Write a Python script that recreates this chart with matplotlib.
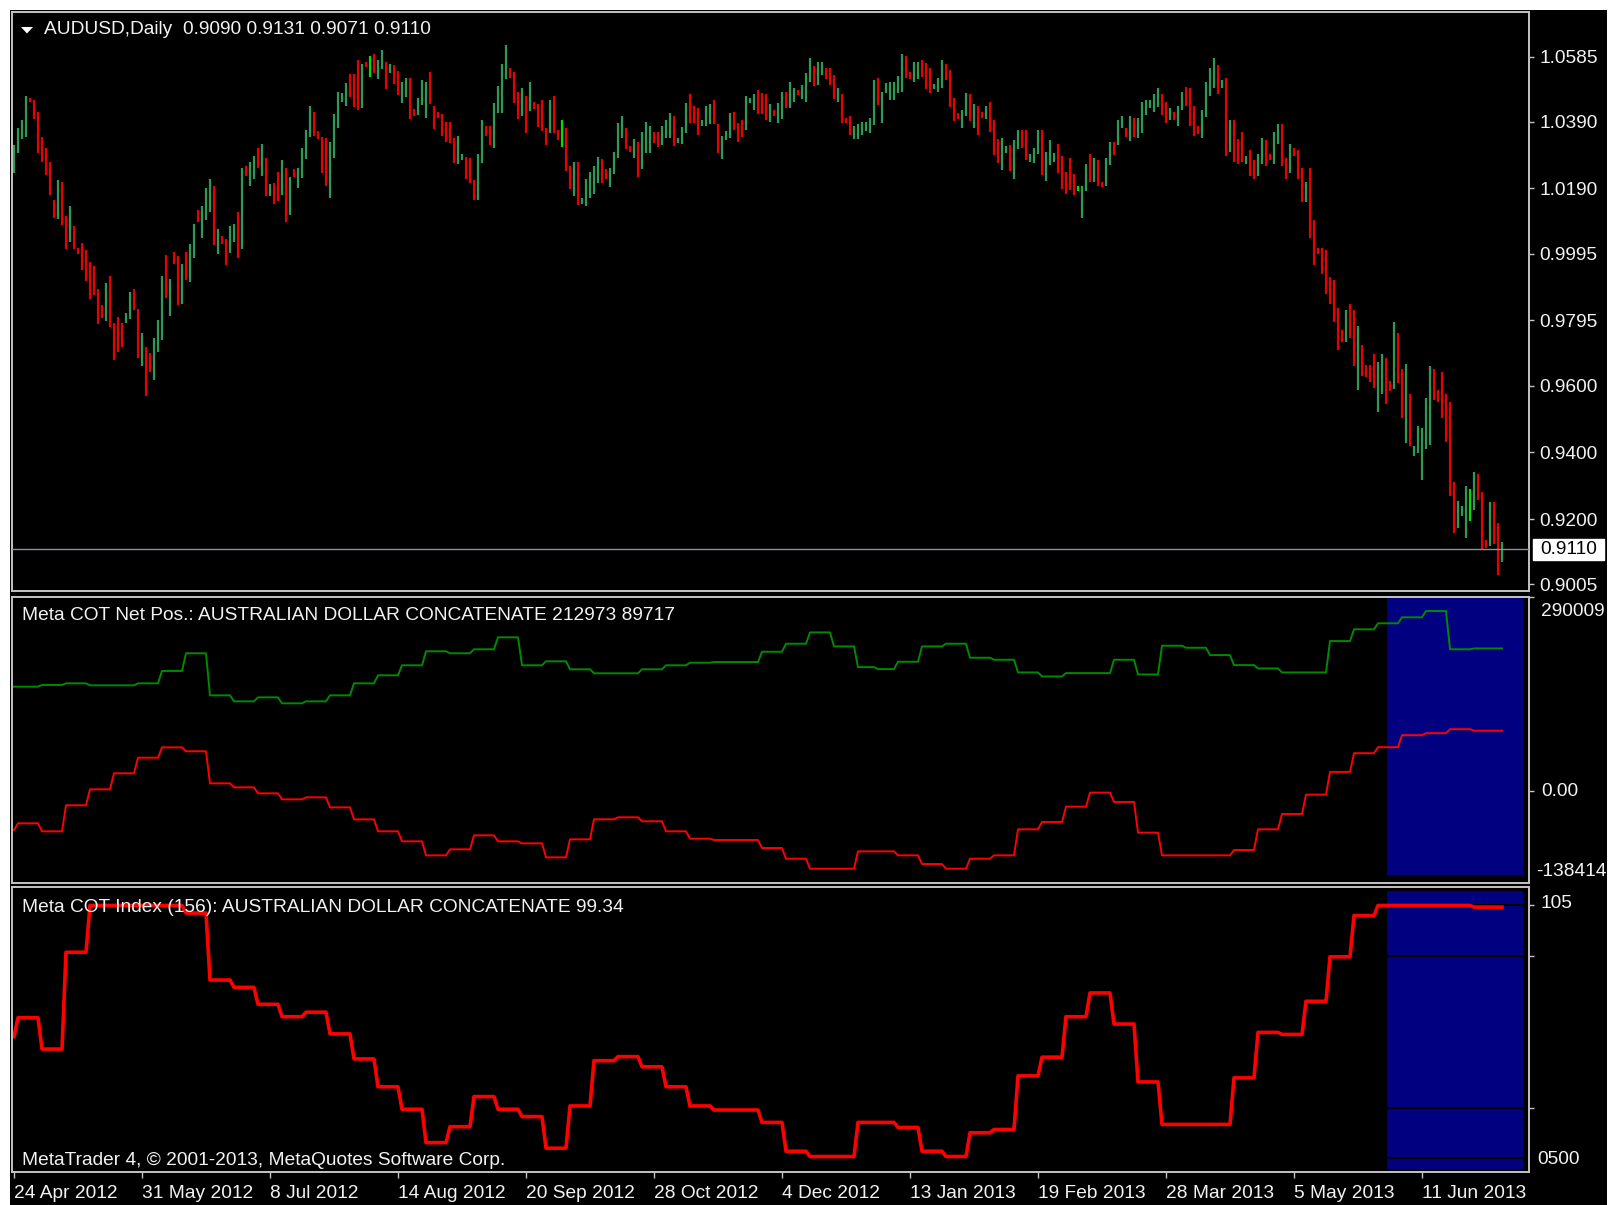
import numpy as np
import matplotlib
matplotlib.use("Agg")
import matplotlib.pyplot as plt
from matplotlib.patches import Rectangle, Polygon
from matplotlib.transforms import blended_transform_factory

plt.rcParams['font.family'] = ['Liberation Sans', 'DejaVu Sans']

# ------------------------------------------------------------------ data
symbol_title = "AUDUSD,Daily  0.9090 0.9131 0.9071 0.9110"
netpos_title = "Meta COT Net Pos.: AUSTRALIAN DOLLAR CONCATENATE 212973 89717"
index_title = "Meta COT Index (156): AUSTRALIAN DOLLAR CONCATENATE 99.34"
copyright_text = "MetaTrader 4, \u00a9 2001-2013, MetaQuotes Software Corp."

bar_high = [
    1.0320, 1.0370, 1.0395, 1.0467, 1.0460, 1.0455, 1.0420, 1.0345, 1.0310, 1.0268,
    1.0155, 1.0215, 1.0208, 1.0108, 1.0137, 1.0077, 1.0012, 1.0028, 1.0005, 0.9970,
    0.9957, 0.9890, 0.9842, 0.9908, 0.9927, 0.9788, 0.9805, 0.9788, 0.9817, 0.9880,
    0.9890, 0.9830, 0.9758, 0.9717, 0.9698, 0.9742, 0.9795, 0.9927, 0.9992, 0.9920,
    1.0000, 0.9987, 0.9963, 1.0000, 1.0023, 1.0083, 1.0125, 1.0137, 1.0192, 1.0217,
    1.0198, 1.0070, 1.0047, 1.0040, 1.0078, 1.0083, 1.0120, 1.0252, 1.0257, 1.0270,
    1.0287, 1.0310, 1.0323, 1.0280, 1.0202, 1.0205, 1.0240, 1.0275, 1.0250, 1.0223,
    1.0247, 1.0250, 1.0312, 1.0365, 1.0437, 1.0418, 1.0363, 1.0345, 1.0340, 1.0328,
    1.0412, 1.0480, 1.0475, 1.0505, 1.0532, 1.0532, 1.0575, 1.0563, 1.0570, 1.0588,
    1.0593, 1.0575, 1.0605, 1.0570, 1.0563, 1.0560, 1.0542,
    1.0510, 1.0522, 1.0522, 1.0427, 1.0462, 1.0515, 1.0510, 1.0540, 1.0438, 1.0420,
    1.0414, 1.0388, 1.0390, 1.0342, 1.0348, 1.0293, 1.0285, 1.0282, 1.0215, 1.0293,
    1.0395, 1.0377, 1.0378, 1.0445, 1.0498, 1.0563, 1.0618, 1.0552, 1.0540, 1.0480,
    1.0492, 1.0468, 1.0510, 1.0450, 1.0443, 1.0455, 1.0370, 1.0455, 1.0468, 1.0365,
    1.0395, 1.0372, 1.0258, 1.0270, 1.0268, 1.0163, 1.0217, 1.0238, 1.0258, 1.0285,
    1.0277, 1.0248, 1.0252, 1.0300, 1.0385, 1.0408, 1.0372, 1.0318, 1.0337, 1.0330,
    1.0360, 1.0390, 1.0378, 1.0358, 1.0360, 1.0377, 1.0395, 1.0415, 1.0408, 1.0342,
    1.0375, 1.0445, 1.0473, 1.0438, 1.0430, 1.0395, 1.0438, 1.0443, 1.0455, 1.0383,
    1.0348, 1.0362, 1.0415, 1.0420, 1.0385, 1.0395, 1.0468, 1.0462, 1.0473, 1.0485,
    1.0475, 1.0473, 1.0443, 1.0425, 1.0445, 1.0480,
    1.0480, 1.0510, 1.0492, 1.0485, 1.0500, 1.0535, 1.0582, 1.0558, 1.0570, 1.0570,
    1.0552, 1.0552, 1.0530, 1.0492, 1.0473, 1.0402, 1.0407, 1.0378, 1.0382, 1.0390,
    1.0390, 1.0402, 1.0515, 1.0520, 1.0480, 1.0505, 1.0510, 1.0510, 1.0528, 1.0593,
    1.0588, 1.0540, 1.0570, 1.0570, 1.0575, 1.0565, 1.0552, 1.0502, 1.0522, 1.0575,
    1.0563, 1.0545, 1.0462, 1.0415, 1.0425, 1.0475, 1.0473, 1.0443, 1.0438, 1.0420,
    1.0438, 1.0448, 1.0395, 1.0337, 1.0342, 1.0318, 1.0320, 1.0335, 1.0365, 1.0365,
    1.0365, 1.0292, 1.0312, 1.0365, 1.0365, 1.0300, 1.0335, 1.0295, 1.0323, 1.0288,
    1.0240, 1.0282, 1.0233, 1.0198, 1.0198, 1.0263, 1.0292, 1.0282, 1.0275, 1.0210,
    1.0282, 1.0330, 1.0330, 1.0395, 1.0408, 1.0372, 1.0408, 1.0402, 1.0402, 1.0450,
    1.0455, 1.0455, 1.0473, 1.0492, 1.0473, 1.0450,
    1.0430, 1.0418, 1.0437, 1.0478, 1.0495, 1.0490, 1.0437, 1.0377, 1.0425, 1.0509,
    1.0550, 1.0581, 1.0560, 1.0514, 1.0521, 1.0394, 1.0394, 1.0339, 1.0358, 1.0286,
    1.0305, 1.0276, 1.0292, 1.0341, 1.0336, 1.0292, 1.0358, 1.0383, 1.0383, 1.0281,
    1.0323, 1.0310, 1.0305, 1.0251, 1.0210, 1.0251, 1.0096, 1.0011, 1.0011, 1.0006,
    0.9924, 0.9915, 0.9833, 0.9766, 0.9826, 0.9843, 0.9826, 0.9779, 0.9723, 0.9661,
    0.9663, 0.9695, 0.9671, 0.9695, 0.9682, 0.9615, 0.9790, 0.9759, 0.9651, 0.9664,
    0.9574, 0.9419, 0.9479, 0.9473, 0.9563, 0.9658, 0.9651, 0.9586, 0.9640, 0.9576,
    0.9551, 0.9311, 0.9256, 0.9239, 0.9299, 0.9292, 0.9342, 0.9335, 0.9282, 0.9138,
    0.9251, 0.9251, 0.9190, 0.9131,
]
bar_low = [
    1.0235, 1.0295, 1.0338, 1.0345, 1.0448, 1.0398, 1.0295, 1.0270, 1.0230, 1.0170,
    1.0102, 1.0098, 1.0080, 1.0008, 1.0030, 1.0008, 0.9995, 0.9946, 0.9912, 0.9858,
    0.9870, 0.9784, 0.9802, 0.9792, 0.9775, 0.9678, 0.9702, 0.9715, 0.9787, 0.9800,
    0.9825, 0.9682, 0.9658, 0.9570, 0.9642, 0.9617, 0.9702, 0.9738, 0.9863, 0.9808,
    0.9965, 0.9840, 0.9845, 0.9915, 0.9910, 0.9982, 1.0090, 1.0042, 1.0095, 1.0120,
    1.0020, 0.9995, 1.0023, 0.9960, 0.9997, 1.0030, 0.9982, 1.0008, 1.0228, 1.0198,
    1.0217, 1.0250, 1.0228, 1.0168, 1.0168, 1.0145, 1.0152, 1.0170, 1.0090, 1.0110,
    1.0223, 1.0192, 1.0222, 1.0278, 1.0343, 1.0348, 1.0337, 1.0235, 1.0198, 1.0162,
    1.0282, 1.0372, 1.0450, 1.0438, 1.0465, 1.0435, 1.0425, 1.0432, 1.0555, 1.0523,
    1.0535, 1.0517, 1.0547, 1.0487, 1.0535, 1.0502, 1.0470,
    1.0445, 1.0463, 1.0398, 1.0407, 1.0410, 1.0440, 1.0402, 1.0443, 1.0367, 1.0402,
    1.0348, 1.0330, 1.0325, 1.0265, 1.0263, 1.0275, 1.0217, 1.0205, 1.0157, 1.0157,
    1.0265, 1.0348, 1.0320, 1.0312, 1.0415, 1.0415, 1.0517, 1.0522, 1.0445, 1.0398,
    1.0407, 1.0355, 1.0422, 1.0427, 1.0373, 1.0362, 1.0320, 1.0355, 1.0357, 1.0335,
    1.0313, 1.0242, 1.0187, 1.0168, 1.0140, 1.0145, 1.0138, 1.0163, 1.0173, 1.0205,
    1.0205, 1.0217, 1.0193, 1.0232, 1.0282, 1.0342, 1.0308, 1.0300, 1.0282, 1.0223,
    1.0248, 1.0295, 1.0295, 1.0325, 1.0313, 1.0320, 1.0342, 1.0342, 1.0318, 1.0325,
    1.0323, 1.0355, 1.0385, 1.0385, 1.0350, 1.0377, 1.0378, 1.0382, 1.0382, 1.0295,
    1.0277, 1.0335, 1.0342, 1.0365, 1.0330, 1.0343, 1.0365, 1.0445, 1.0425, 1.0413,
    1.0412, 1.0395, 1.0390, 1.0407, 1.0385, 1.0398,
    1.0432, 1.0432, 1.0450, 1.0470, 1.0457, 1.0450, 1.0510, 1.0498, 1.0500, 1.0530,
    1.0517, 1.0500, 1.0457, 1.0450, 1.0385, 1.0385, 1.0350, 1.0337, 1.0337, 1.0350,
    1.0362, 1.0355, 1.0380, 1.0440, 1.0385, 1.0475, 1.0455, 1.0455, 1.0475, 1.0480,
    1.0520, 1.0518, 1.0510, 1.0518, 1.0523, 1.0488, 1.0475, 1.0488, 1.0480, 1.0490,
    1.0515, 1.0433, 1.0392, 1.0397, 1.0372, 1.0408, 1.0392, 1.0372, 1.0350, 1.0402,
    1.0398, 1.0360, 1.0290, 1.0265, 1.0245, 1.0295, 1.0242, 1.0218, 1.0308, 1.0312,
    1.0275, 1.0270, 1.0265, 1.0292, 1.0230, 1.0212, 1.0260, 1.0270, 1.0235, 1.0188,
    1.0175, 1.0185, 1.0170, 1.0182, 1.0103, 1.0182, 1.0210, 1.0210, 1.0198, 1.0193,
    1.0198, 1.0260, 1.0290, 1.0320, 1.0370, 1.0343, 1.0332, 1.0343, 1.0342, 1.0355,
    1.0410, 1.0432, 1.0420, 1.0435, 1.0410, 1.0385,
    1.0395, 1.0395, 1.0377, 1.0425, 1.0437, 1.0377, 1.0348, 1.0354, 1.0341, 1.0403,
    1.0468, 1.0492, 1.0473, 1.0492, 1.0287, 1.0300, 1.0269, 1.0264, 1.0269, 1.0264,
    1.0228, 1.0217, 1.0228, 1.0264, 1.0258, 1.0276, 1.0264, 1.0323, 1.0258, 1.0217,
    1.0235, 1.0287, 1.0217, 1.0150, 1.0150, 1.0042, 0.9960, 0.9994, 0.9934, 0.9874,
    0.9843, 0.9790, 0.9707, 0.9730, 0.9730, 0.9743, 0.9658, 0.9586, 0.9630, 0.9625,
    0.9610, 0.9594, 0.9522, 0.9576, 0.9545, 0.9584, 0.9589, 0.9607, 0.9504, 0.9427,
    0.9419, 0.9390, 0.9399, 0.9318, 0.9409, 0.9421, 0.9558, 0.9551, 0.9504, 0.9431,
    0.9270, 0.9158, 0.9174, 0.9211, 0.9144, 0.9194, 0.9228, 0.9257, 0.9110, 0.9113,
    0.9120, 0.9125, 0.9033, 0.9071,
]
# G = bull bar, R = bear bar, L = highlighted bull bar
bar_dir = (
    "GGGGRRRRRR" "RGRRGRRRRR" "RRRGRRRRGG" "RRGRRGGGRG" "RRGRGGRGGG"
    "RGRRGGRGRG" "GRGRGRRGRG" "RGGGGRRRRG" "GGGGRRRGRL" "RGGRGRR"
    "GGRRGGGRRR" "RRRRGGRRRG" "GRRGGGGRRR" "GRGRRRRGRR" "LRRGRGGGGG"
    "RRGGGGRRGR" "GGGRRGGGRG" "GGRRRGGGRR" "GGGRRRGGGR" "RRGRGG"
    "RGGRGGGRGG" "RRRGRRRGGG" "GGGRGGGGGG" "RRGGRRRGGG" "RRRRGGRGRR"
    "GRRRGGRGGR" "RGGGRGGGRR" "RRRLGGRGRR" "GGRGGRGRGG" "GGGGRR"
    "GRGGRRRRGG" "GGRGRGRRRG" "RRGGRRGGRR" "GRRRGRRRRR" "RRRRGRRGRR"
    "RRGGRRGRRG" "RGGGGGRRRR" "RRGGGLGRRR" "GRRG"
)
last_price = 0.9110
price_ticks = [1.0585, 1.0390, 1.0190, 0.9995, 0.9795, 0.9600, 0.9400, 0.9200, 0.9005]

# weekly COT values: first bar of each weekly step
week_start = [0] + list(range(1, 206, 6)) + [211, 216] + list(range(221, 366, 6))
cot_green = [
    155700, 155700, 158200, 160700, 157700, 157700, 160700, 179200, 205700, 142700,
    133700, 139700, 130700, 133700, 142700, 160700, 172700, 187700, 208700, 205700,
    211700, 229600, 187700, 193700, 181700, 175700, 175700, 181700, 187700, 191600,
    192600, 192600, 208000, 220000, 237000, 216000, 185000, 182000, 193000, 216000,
    220000, 199000, 196000, 177000, 171000, 176000, 176000, 196000, 174000, 217000,
    214000, 203000, 188000, 183000, 177000, 177000, 224000, 241600, 250600, 259600,
    269000, 211700, 212973,
]
cot_red = [
    -59000, -49000, -61000, -22000, 1900, 25900, 49300, 64800, 58900, 10900,
    4900, -4100, -13100, -10100, -25100, -43100, -61000, -76000, -97000, -88000,
    -67000, -76000, -79000, -100000, -73000, -43000, -40000, -46000, -61000, -72000,
    -74000, -74000, -86000, -102000, -117000, -117000, -91000, -91000, -97000, -110000,
    -117000, -102000, -97000, -58000, -47000, -24000, -3000, -17000, -63000, -97000,
    -97000, -97000, -89000, -58000, -35000, -6000, 28000, 56000, 65000, 83000,
    86000, 92000, 89717,
]
cot_index = [
    48.1, 55.6, 43.2, 81.5, 100, 100, 100, 100, 97.0, 70.5,
    67.6, 60.9, 56.0, 57.8, 49.2, 39.3, 28.3, 19.4, 6.2, 12.5,
    24.4, 19.4, 16.5, 4.0, 20.7, 38.6, 40.2, 36.2, 28.3, 20.7,
    19.1, 19.1, 14.2, 2.8, 0.7, 0.7, 14.2, 14.2, 12.2, 2.8,
    0.7, 10.1, 11.4, 32.6, 40.0, 56.0, 65.4, 53.1, 30.2, 13.4,
    13.4, 13.4, 31.8, 49.8, 49.0, 62.1, 79.7, 96.0, 100, 100,
    100, 100, 99.34,
]
netpos_max = 290009
netpos_min = -138414
index_top_label = "105"
index_bottom_label = "0500"
index_levels = [100, 80, 20, 0]
highlight_bars = (343.25, 377.25)

date_tick_bars = [0, 32, 64, 96, 128, 160, 192, 224, 256, 288, 320, 352]
date_tick_labels = ["24 Apr 2012", "31 May 2012", "8 Jul 2012", "14 Aug 2012",
                    "20 Sep 2012", "28 Oct 2012", "4 Dec 2012", "13 Jan 2013",
                    "19 Feb 2013", "28 Mar 2013", "5 May 2013", "11 Jun 2013"]

# ------------------------------------------------------------------ figure
W, H = 1622, 1205
fig = plt.figure(figsize=(W / 100, H / 100), dpi=100)
fig.patch.set_facecolor('white')
fig.add_artist(Rectangle((10 / W, 0), 1597 / W, 1 - 10 / H, transform=fig.transFigure,
                         facecolor='black', edgecolor='none', zorder=-10))

TXT = '#F2F2F2'
FRAME = '#C4C4C4'
FS = 13.8


def fx(x):
    return x / W


def fy(y):
    return 1 - y / H


L, R = 12, 1529
ax1 = fig.add_axes([fx(L), fy(591), (R - L) / W, (591 - 12) / H])
ax2 = fig.add_axes([fx(L), fy(883), (R - L) / W, (883 - 597) / H])
ax3 = fig.add_axes([fx(L), fy(1172), (R - L) / W, (1172 - 887) / H])

n = len(bar_high)
xs = np.arange(n)
for ax in (ax1, ax2, ax3):
    ax.set_facecolor('black')
    for s in ax.spines.values():
        s.set_color(FRAME)
        s.set_linewidth(1.4)
    ax.yaxis.tick_right()
    ax.tick_params(axis='y', colors=FRAME, labelcolor=TXT, length=3.5, width=1,
                   pad=4, labelsize=FS)
    ax.set_xlim(-0.5, 378.75)
    ax.set_xticks([])

# ---- price panel
col_map = {'G': '#2e9a5a', 'R': '#e60000', 'L': '#00e000'}
ax1.vlines(xs, bar_low, bar_high, colors=[col_map[c] for c in bar_dir], linewidth=1.6)
ax1.set_ylim(0.89854, 1.07182)
ax1.set_yticks(price_ticks, labels=[f"{p:.4f}" for p in price_ticks])
ax1.axhline(last_price, color='#8593a3', lw=1.0, zorder=3)
bt = blended_transform_factory(ax1.transAxes, ax1.transData)
box_h = 20.5 / 3341.5
ax1.add_patch(Rectangle(((1533 - L) / (R - L), last_price - box_h / 2),
                        (1604 - 1533) / (R - L), box_h, transform=bt,
                        facecolor='white', edgecolor='white', clip_on=False, zorder=5))
ax1.text((1540 - L) / (R - L), last_price, f"{last_price:.4f}", transform=bt,
         color='black', fontsize=FS, va='center', ha='left', clip_on=False, zorder=6)

fig.add_artist(Polygon([(fx(21), fy(27)), (fx(33), fy(27)), (fx(27), fy(33.5))],
                       closed=True, transform=fig.transFigure, facecolor='white',
                       edgecolor='none', zorder=5))
fig.text(fx(44), fy(30), symbol_title, color=TXT, fontsize=FS, va='center', ha='left')

# ---- net position panel
counts = np.diff(week_start + [n])
g_line = np.repeat(cot_green, counts)
r_line = np.repeat(cot_red, counts)
idx_line = np.repeat(cot_index, counts)

ax2.axvspan(highlight_bars[0], highlight_bars[1], ymin=0.028, ymax=1.0,
            color='#000080', zorder=0.5, lw=0)
ax2.plot(xs, g_line, color='#008a00', lw=1.4, zorder=2)
ax2.plot(xs, r_line, color='#ff0000', lw=1.4, zorder=2)
ax2.set_ylim(netpos_min, netpos_max)
ax2.set_yticks([netpos_max, 0], labels=['', ''])
fig.text(fx(1541), fy(611), f"{netpos_max}", color=TXT, fontsize=FS, va='center')
fig.text(fx(1541), fy(792), "0.00", color=TXT, fontsize=FS, va='center')
fig.text(fx(1536), fy(871), f"{netpos_min}", color=TXT, fontsize=FS, va='center')
fig.text(fx(22), fy(615.5), netpos_title, color=TXT, fontsize=FS, va='center')

# ---- COT index panel
ax3.axvspan(highlight_bars[0], highlight_bars[1], ymin=0.0105, ymax=0.987,
            color='#000080', zorder=0.5, lw=0)
for lv in index_levels:
    ax3.axhline(lv, color='black', lw=1.5, zorder=1)
ax3.plot(xs, idx_line, color='#ff0000', lw=2.6, zorder=2)
ax3.set_ylim(-5.42, 107.3)
ax3.set_yticks([100, 80, 20], labels=['', '', ''])
fig.text(fx(1541), fy(903), index_top_label, color=TXT, fontsize=FS, va='center')
fig.text(fx(1537), fy(1160), index_bottom_label, color=TXT, fontsize=FS, va='center')
fig.text(fx(22), fy(907.5), index_title, color=TXT, fontsize=FS, va='center')
fig.text(fx(22), fy(1160.5), copyright_text, color=TXT, fontsize=FS, va='center')

ax3.set_xticks(date_tick_bars, labels=date_tick_labels)
ax3.tick_params(axis='x', colors=FRAME, labelcolor=TXT, length=4, width=1,
                pad=5.5, labelsize=FS)
for t in ax3.get_xticklabels():
    t.set_horizontalalignment('left')

fig.savefig('out.png', dpi=100, facecolor=fig.get_facecolor())
